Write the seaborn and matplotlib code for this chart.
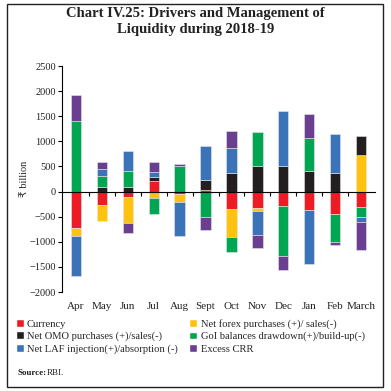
import numpy as np
import pandas as pd
import seaborn as sns
import matplotlib.pyplot as plt
from matplotlib.patches import Rectangle, Patch

months = ["Apr", "May", "Jun", "Jul", "Aug", "Sept", "Oct", "Nov", "Dec", "Jan", "Feb", "March"]
currency = [-730, -260, -110, 215, -50, 30, -350, -335, -285, -370, -455, -315]
forex = [-160, -320, -510, -120, -165, 0, -560, -50, 0, 0, 0, 730]
omo = [0, 95, 95, 70, 0, 200, 365, 500, 500, 410, 365, 370]
goi = [1410, 220, 310, -330, 510, -500, -300, 690, -995, 665, -555, -200]
laf = [-790, 130, 400, 100, -665, 675, 495, -475, 1095, -1075, 790, -100]
crr = [510, 150, -200, 210, 45, -265, 345, -260, -285, 460, -45, -555]

series = [
    ("Currency", currency, "#ED1C24"),
    ("Net forex purchases (+)/ sales(-)", forex, "#FFC20E"),
    ("Net OMO purchases (+)/sales(-)", omo, "#231F20"),
    ("GoI balances drawdown(+)/build-up(-)", goi, "#00A651"),
    ("Net LAF injection(+)/absorption (-)", laf, "#3B73B9"),
    ("Excess CRR", crr, "#6A3F92"),
]

sns.set_theme(style="white")
serif = ["Liberation Serif", "DejaVu Serif"]
plt.rcParams["font.family"] = serif

fig = plt.figure(figsize=(3.91, 3.91), dpi=100)
ax = fig.add_axes([62 / 391, 1 - 292 / 391, (375 - 62) / 391, (292 - 66) / 391])

pos_base = np.zeros(len(months))
neg_base = np.zeros(len(months))
for name, vals, col in series:
    v = np.array(vals, dtype=float)
    bottom = np.where(v >= 0, pos_base, neg_base)
    df = pd.DataFrame({"month": months, "val": v})
    sns.barplot(data=df, x="month", y="val", bottom=bottom, color=col,
                saturation=1, width=0.4, edgecolor="#e6e6e6", linewidth=0.4, ax=ax)
    pos_base += np.where(v > 0, v, 0)
    neg_base += np.where(v < 0, v, 0)

ax.set_xlim(-0.54, 11.54)
ax.set_ylim(-2000, 2500)
ax.set_yticks(range(-2000, 2501, 500))
ax.tick_params(axis="y", labelsize=7.5, length=3, width=0.8, color="black",
               left=True, pad=1.5, labelcolor="#222222")
ax.set_ylabel("₹ billion", fontsize=7.5, labelpad=0,
              family=["Liberation Serif", "DejaVu Sans"])
ax.yaxis.set_label_coords(-0.105, 0.5)

for s in ["top", "right"]:
    ax.spines[s].set_visible(False)
ax.spines["left"].set_color("black")
ax.spines["left"].set_linewidth(0.8)
ax.spines["bottom"].set_position(("data", 0))
ax.spines["bottom"].set_color("black")
ax.spines["bottom"].set_linewidth(0.8)
ax.set_xlabel("")
ax.set_xticks(np.arange(0.5, 11, 1), minor=True)
ax.set_xticks(range(len(months)))
ax.tick_params(axis="x", which="major", length=0, labelbottom=False)
ax.tick_params(axis="x", which="minor", length=3, width=0.8, color="black",
               direction="out", bottom=True)

sec = ax.secondary_xaxis("bottom")
sec.set_xticks(range(len(months)), months)
sec.tick_params(length=0, labelsize=8, pad=7, labelcolor="#222222")
sec.spines["bottom"].set_visible(False)

fig.text(0.5, 1 - 7 / 391, "Chart IV.25: Drivers and Management of\nLiquidity during 2018-19",
         ha="center", va="top", fontsize=10.5, fontweight="bold",
         linespacing=1.25, color="#222222")

handles = [Patch(facecolor=col, label=name) for name, vals, col in series]
order = [0, 2, 4, 1, 3, 5]
fig.legend([handles[i] for i in order], [handles[i].get_label() for i in order],
           ncol=2, loc="upper left", bbox_to_anchor=(16 / 391, 1 - 319 / 391),
           frameon=False, fontsize=7.6, handlelength=0.75, handleheight=0.75,
           handletextpad=0.3, columnspacing=1.1, labelspacing=0.25,
           borderaxespad=0, borderpad=0)

fig.text(18 / 391, 1 - 373 / 391, "Source:", fontsize=6.5, fontweight="bold",
         va="center", color="#222222")
fig.text(47 / 391, 1 - 373 / 391, "RBI.", fontsize=6.5, va="center", color="#222222")

fig.add_artist(Rectangle((7 / 391, 1 - 387 / 391), 376 / 391, 383 / 391,
                         transform=fig.transFigure, fill=False,
                         edgecolor="#222222", linewidth=1))

fig.savefig("out.png", dpi=100)
